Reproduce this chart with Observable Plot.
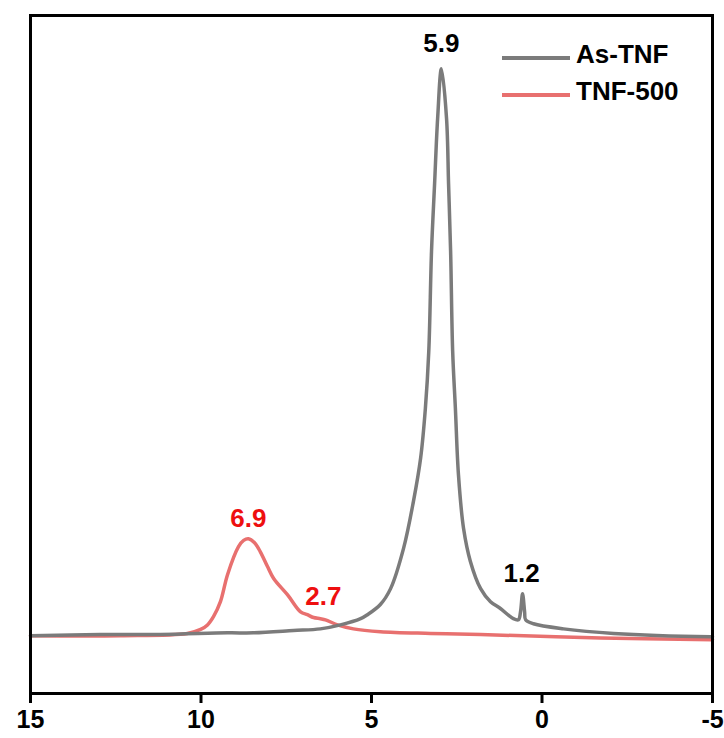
<!DOCTYPE html>
<html>
<head>
<meta charset="utf-8">
<script src="https://cdn.jsdelivr.net/npm/d3@7"></script>
<script src="https://cdn.jsdelivr.net/npm/@observablehq/plot@0.6"></script>
<style>
  html, body { margin: 0; padding: 0; background: #fff; }
  #wrap { position: relative; width: 724px; height: 738px; font-family: "Liberation Sans", Arial, sans-serif; }
  .leg { position: absolute; display: flex; align-items: center; font-weight: bold; font-size: 26px; color: #000; }
  .leg span.sw { display: inline-block; width: 68px; height: 4px; margin-right: 6px; position: relative; top: 3px; }
</style>
</head>
<body>
<div id="wrap"></div>
<script>
// As-TNF (gray) series: x value, relative intensity
const asTnfX = [15.0, 12.95, 11.19, 9.22, 8.46, 7.29, 6.50, 5.91, 5.32, 5.12, 4.74, 4.44, 4.06, 3.77, 3.56, 3.42, 3.32, 3.24, 3.15, 3.06, 2.95, 2.80, 2.74, 2.68, 2.62, 2.54, 2.45, 2.30, 2.10, 1.80, 1.51, 1.22, 0.84, 0.69, 0.63, 0.57, 0.51, 0.48, 0.25, -0.63, -2.10, -4.94, -5.0];
const asTnfY = [0, 0.2, 0.2, 0.5, 0.5, 0.9, 1.2, 1.9, 3.0, 3.7, 5.5, 8.3, 15.4, 23.7, 31.3, 40.1, 50.2, 67.8, 79.7, 91.3, 100, 91.3, 79.7, 67.8, 50.2, 40.1, 28.4, 18.9, 13.1, 8.3, 6.0, 4.8, 3.0, 2.8, 4.2, 7.4, 4.2, 2.8, 2.1, 1.2, 0.4, -0.2, -0.2];

// TNF-500 (red) series
const tnf500X = [15.0, 12.36, 10.40, 10.01, 9.81, 9.63, 9.43, 9.22, 8.90, 8.75, 8.61, 8.43, 8.26, 8.05, 7.87, 7.46, 7.08, 6.88, 6.70, 6.50, 6.35, 6.00, 5.53, 4.74, 3.27, 1.80, -1.72, -5.0];
const tnf500Y = [0, 0, 0.4, 1.1, 1.9, 3.4, 6.0, 10.8, 15.7, 16.8, 17.1, 16.4, 14.8, 12.2, 10.1, 7.2, 4.2, 3.7, 3.2, 3.0, 2.8, 1.9, 1.2, 0.7, 0.4, 0.2, -0.4, -0.7];

// Peak annotations
const grayLabels = ["5.9", "1.2"];
const grayLabelX = [2.95, 0.6];
const grayLabelY = [104.4, 11.0];
const redLabels = ["6.9", "2.7"];
const redLabelX = [8.61, 6.41];
const redLabelY = [20.7, 6.9];

// Axis ticks
const xTicks = [15, 10, 5, 0, -5];

// Legend
const seriesNames = ["As-TNF", "TNF-500"];
const seriesColors = ["#7b7b7b", "#e8706f"];

const grayData = asTnfX.map((x, i) => ({x, y: asTnfY[i]}));
const redData = tnf500X.map((x, i) => ({x, y: tnf500Y[i]}));
const grayLab = grayLabels.map((t, i) => ({t, x: grayLabelX[i], y: grayLabelY[i]}));
const redLab = redLabels.map((t, i) => ({t, x: redLabelX[i], y: redLabelY[i]}));

const chart = Plot.plot({
  width: 724,
  height: 738,
  marginLeft: 30,
  marginRight: 12,
  marginTop: 15,
  marginBottom: 45,
  style: {fontFamily: "'Liberation Sans', Arial, sans-serif", background: "#fff", overflow: "visible"},
  x: {domain: [15, -5], ticks: xTicks, tickFormat: d => String(d), label: null},
  y: {domain: [-10.2, 109.4], axis: null},
  marks: [
    Plot.line(redData, {x: "x", y: "y", stroke: seriesColors[1], strokeWidth: 3.5, curve: "catmull-rom"}),
    Plot.line(grayData, {x: "x", y: "y", stroke: seriesColors[0], strokeWidth: 3.5, curve: "catmull-rom"}),
    Plot.text(grayLab, {x: "x", y: "y", text: "t", fill: "#000", fontSize: 26, fontWeight: "bold"}),
    Plot.text(redLab, {x: "x", y: "y", text: "t", fill: "#ee0f0f", fontSize: 26, fontWeight: "bold"}),
    Plot.frame({stroke: "#000", strokeWidth: 3}),
    Plot.axisX({ticks: xTicks, tickSize: 10, tickPadding: 7, fontSize: 25, fontWeight: "bold", stroke: "#000", strokeWidth: 3, tickFormat: d => String(d), label: null, fill: "#000"})
  ]
});

const wrap = document.getElementById("wrap");
wrap.appendChild(chart);

const legTops = [39, 76];
seriesNames.forEach((name, i) => {
  const d = document.createElement("div");
  d.className = "leg";
  d.style.left = "502px";
  d.style.top = legTops[i] + "px";
  const sw = document.createElement("span");
  sw.className = "sw";
  sw.style.background = seriesColors[i];
  d.appendChild(sw);
  d.appendChild(document.createTextNode(name));
  wrap.appendChild(d);
});
</script>
</body>
</html>
